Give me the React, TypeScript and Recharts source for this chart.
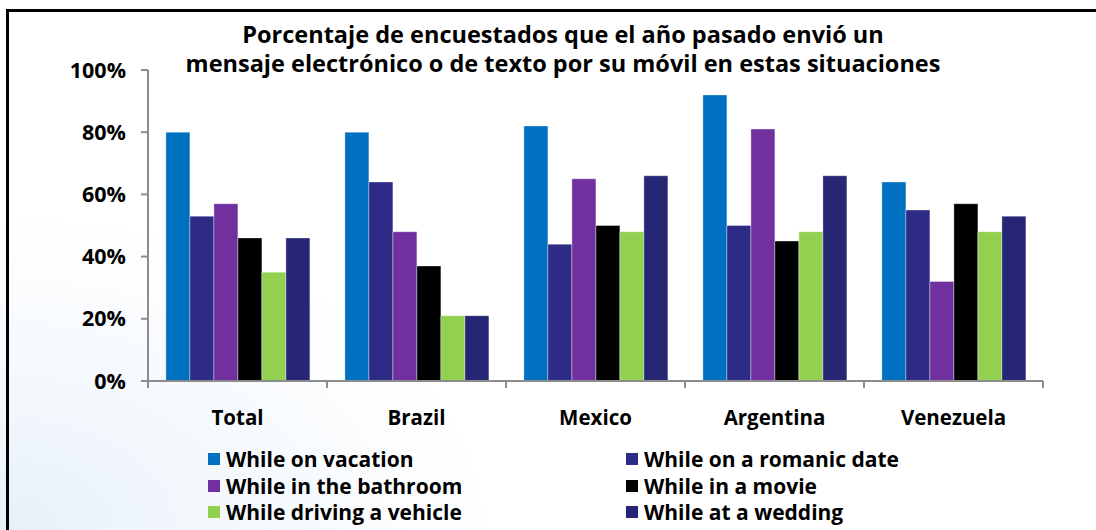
import React from 'react';
import { BarChart, Bar, XAxis, YAxis } from 'recharts';

const countries = ['Total', 'Brazil', 'Mexico', 'Argentina', 'Venezuela'];
const vacation = [80, 80, 82, 92, 64];
const romanticDate = [53, 64, 44, 50, 55];
const bathroom = [57, 48, 65, 81, 32];
const movie = [46, 37, 50, 45, 57];
const driving = [35, 21, 48, 48, 48];
const wedding = [46, 21, 66, 66, 53];
const yTicks = [0, 20, 40, 60, 80, 100];

const series = [
  { key: 'vacation', name: 'While on vacation', color: '#0070c0', values: vacation },
  { key: 'romanticDate', name: 'While on a romanic date', color: '#2d2b86', values: romanticDate },
  { key: 'bathroom', name: 'While in the bathroom', color: '#7030a0', values: bathroom },
  { key: 'movie', name: 'While in a movie', color: '#000000', values: movie },
  { key: 'driving', name: 'While driving a vehicle', color: '#92d050', values: driving },
  { key: 'wedding', name: 'While at a wedding', color: '#262675', values: wedding },
];

const data = countries.map((c, i) => {
  const row: Record<string, string | number> = { name: c };
  series.forEach(s => { row[s.key] = s.values[i]; });
  return row;
});

const W = 1096;
const H = 530;
const xAxisHeight = 30;
const margin = { top: 70, right: 53, bottom: 149 - xAxisHeight, left: 0 };
const yAxisWidth = 148;
const band = (W - margin.right - margin.left - yAxisWidth) / countries.length;
const font = '"Open Sans", sans-serif';

const CategoryTick = (props: any) => {
  const { x, y, payload, index } = props;
  return (
    <g>
      <line x1={x - band / 2} y1={y - 8} x2={x - band / 2} y2={y - 1} stroke="#8c8c8c" strokeWidth={2} />
      {index === countries.length - 1 && (
        <line x1={x + band / 2} y1={y - 8} x2={x + band / 2} y2={y - 1} stroke="#8c8c8c" strokeWidth={2} />
      )}
      <text x={x} y={y + 36} textAnchor="middle" fontFamily={font} fontWeight={700} fontSize={20.5} fill="#000">
        {payload.value}
      </text>
    </g>
  );
};

const App: React.FC = () => {
  return (
    <div style={{ position: 'absolute', left: 0, top: 0, width: W, height: H, overflow: 'hidden',
      background: 'radial-gradient(ellipse 45% 60% at 0% 100%, #e6f0f9 0%, #f5f9fd 50%, #ffffff 100%)' }}>
      <div style={{ position: 'absolute', left: 6, top: 9, width: W, height: H, borderLeft: '3px solid #000', borderTop: '3px solid #000' }} />
      <div style={{ position: 'absolute', left: 0, top: 20, width: 1126, textAlign: 'center', fontFamily: font,
        fontWeight: 700, fontSize: 23.5, lineHeight: '29px', color: '#000' }}>
        Porcentaje de encuestados que el año pasado envió un<br />
        mensaje electrónico o de texto por su móvil en estas situaciones
      </div>
      <BarChart width={W} height={H} data={data} margin={margin} barGap={0} barCategoryGap="10%"
        style={{ position: 'absolute', left: 0, top: 0 }}>
        <XAxis dataKey="name" height={xAxisHeight} axisLine={{ stroke: '#8c8c8c', strokeWidth: 2 }} tickLine={false}
          tick={<CategoryTick />} interval={0} />
        <YAxis width={yAxisWidth} domain={[0, 100]} ticks={yTicks} tickFormatter={(v: number) => `${v}%`}
          axisLine={{ stroke: '#8c8c8c', strokeWidth: 2 }} tickLine={{ stroke: '#8c8c8c', strokeWidth: 2 }}
          tickSize={7} tickMargin={15}
          tick={{ fontFamily: font, fontWeight: 700, fontSize: 21.5, fill: '#000' }} />
        {series.map(s => (
          <Bar key={s.key} dataKey={s.key} name={s.name} fill={s.color} stroke="#ffffff" strokeOpacity={0.35}
            strokeWidth={1} isAnimationActive={false} />
        ))}
      </BarChart>
      <div style={{ position: 'absolute', left: 208, top: 446, width: 860, display: 'grid',
        gridTemplateColumns: '418px 440px', rowGap: 0, fontFamily: font, fontWeight: 700, fontSize: 21,
        lineHeight: '26.5px', color: '#000' }}>
        {series.map(s => (
          <div key={s.key} style={{ display: 'flex', alignItems: 'center', whiteSpace: 'nowrap' }}>
            <span style={{ display: 'inline-block', width: 12, height: 12, background: s.color, marginRight: 6 }} />
            {s.name}
          </div>
        ))}
      </div>
    </div>
  );
};

export default App;
